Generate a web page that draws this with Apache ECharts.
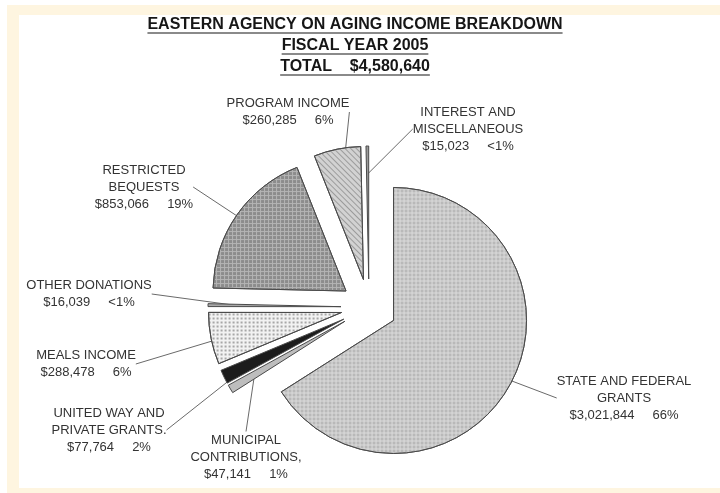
<!DOCTYPE html>
<html><head><meta charset="utf-8">
<script src="https://cdn.jsdelivr.net/npm/echarts@6/dist/echarts.min.js"></script>
<style>html,body{margin:0;padding:0;background:#fff}#c{width:720px;height:493px}</style>
</head><body><div id="c"></div>
<script>
// ---- data ----
const categories = ['STATE AND FEDERAL\nGRANTS', 'MUNICIPAL\nCONTRIBUTIONS,', 'UNITED WAY AND\nPRIVATE GRANTS.', 'MEALS INCOME', 'OTHER DONATIONS', 'RESTRICTED\nBEQUESTS', 'PROGRAM INCOME', 'INTEREST AND\nMISCELLANEOUS'];
const values = [3021844, 47141, 77764, 288478, 16039, 853066, 260285, 15023];
const percentLabels = ['66%', '1%', '2%', '6%', '<1%', '19%', '6%', '<1%'];
const titleLines = ['EASTERN AGENCY ON AGING INCOME BREAKDOWN', 'FISCAL YEAR 2005', 'TOTAL    $4,580,640'];

// ---- layout / style (kept separate from data) ----
const labelCenters = [[624, 398], [246, 457], [109, 430], [86, 364], [89, 294], [144, 187], [288, 112], [468, 129]];
const sliceStyles = [
  {color: '#dcdcdc', decal: {symbol: 'rect', symbolSize: 1, dashArrayX: [3, 1], dashArrayY: [3, 1], color: '#b9b9b9'}},
  {color: '#bdbdbd'},
  {color: '#1c1c1c'},
  {color: '#f2f2f2', decal: {symbol: 'circle', symbolSize: 1, dashArrayX: [2, 2], dashArrayY: [2, 2], color: '#8e8e8e'}},
  {color: '#a8a8a8'},
  {color: '#b4b4b4', decal: {symbol: 'rect', symbolSize: 1, dashArrayX: [3, 1], dashArrayY: [3, 1], color: '#8c8c8c'}},
  {color: '#d2d2d2', decal: {symbol: 'rect', symbolSize: 1, dashArrayX: [1, 0], dashArrayY: [1, 3], rotation: Math.PI / 4, color: '#9c9c9c'}},
  {color: '#9a9a9a'}
];
const FONT = '"Liberation Sans", Arial, sans-serif';
const PIE_CENTER = [369, 307];
const PIE_RADIUS = 133;

const fmt = v => '$' + v.toLocaleString('en-US');

const sliceData = categories.map((name, i) => ({
  name: name,
  value: values[i],
  selected: true,
  itemStyle: Object.assign({borderColor: '#4a4a4a', borderWidth: 1}, sliceStyles[i])
}));
const labelData = categories.map((name, i) => ({name: name, value: values[i]}));

// title graphics with underline
const measure = document.createElement('canvas').getContext('2d');
const titleFont = 'bold 16px ' + FONT;
measure.font = titleFont;
const titleY = [25, 46, 67];
const titleX = 355;
const graphics = [
  {type: 'rect', silent: true, z: -10, shape: {x: 7, y: 5, width: 713, height: 488}, style: {fill: '#fef5e0'}},
  {type: 'rect', silent: true, z: -9, shape: {x: 19, y: 15, width: 701, height: 473}, style: {fill: '#ffffff'}}
];
titleLines.forEach((t, i) => {
  const w = measure.measureText(t).width;
  graphics.push({type: 'text', silent: true, x: titleX, y: titleY[i], style: {text: t, font: titleFont, fill: '#161616', textAlign: 'center', textVerticalAlign: 'middle'}});
  graphics.push({type: 'line', silent: true, shape: {x1: titleX - w / 2, y1: titleY[i] + 8, x2: titleX + w / 2, y2: titleY[i] + 8}, style: {stroke: '#161616', lineWidth: 1.2}});
});

const chart = echarts.init(document.getElementById('c'), null, {renderer: 'canvas'});
chart.setOption({
  animation: false,
  backgroundColor: '#ffffff',
  graphic: graphics,
  series: [{
    // label carrier (unexploded, transparent, drawn underneath)
    type: 'pie',
    z: 1,
    center: PIE_CENTER,
    radius: PIE_RADIUS,
    startAngle: 90,
    clockwise: true,
    avoidLabelOverlap: false,
    silent: true,
    emphasis: {disabled: true},
    itemStyle: {color: 'rgba(0,0,0,0)', borderWidth: 0},
    data: labelData,
    label: {
      show: true,
      position: 'outside',
      fontFamily: FONT,
      fontSize: 13,
      lineHeight: 17,
      color: '#333333',
      formatter: p => p.name + '\n' + fmt(p.value) + '     ' + percentLabels[p.dataIndex]
    },
    labelLine: {show: true, length: 0, length2: 0, smooth: false, lineStyle: {color: '#6a6a6a', width: 1}},
    labelLayout: params => {
      const c = labelCenters[params.dataIndex];
      return {x: c[0], y: c[1], align: 'center', verticalAlign: 'middle'};
    }
  }, {
    // exploded slices
    type: 'pie',
    z: 2,
    center: PIE_CENTER,
    radius: PIE_RADIUS,
    startAngle: 90,
    clockwise: true,
    selectedMode: 'multiple',
    selectedOffset: 28,
    silent: true,
    emphasis: {disabled: true},
    label: {show: false},
    labelLine: {show: false},
    data: sliceData
  }]
});
</script>
</body></html>
